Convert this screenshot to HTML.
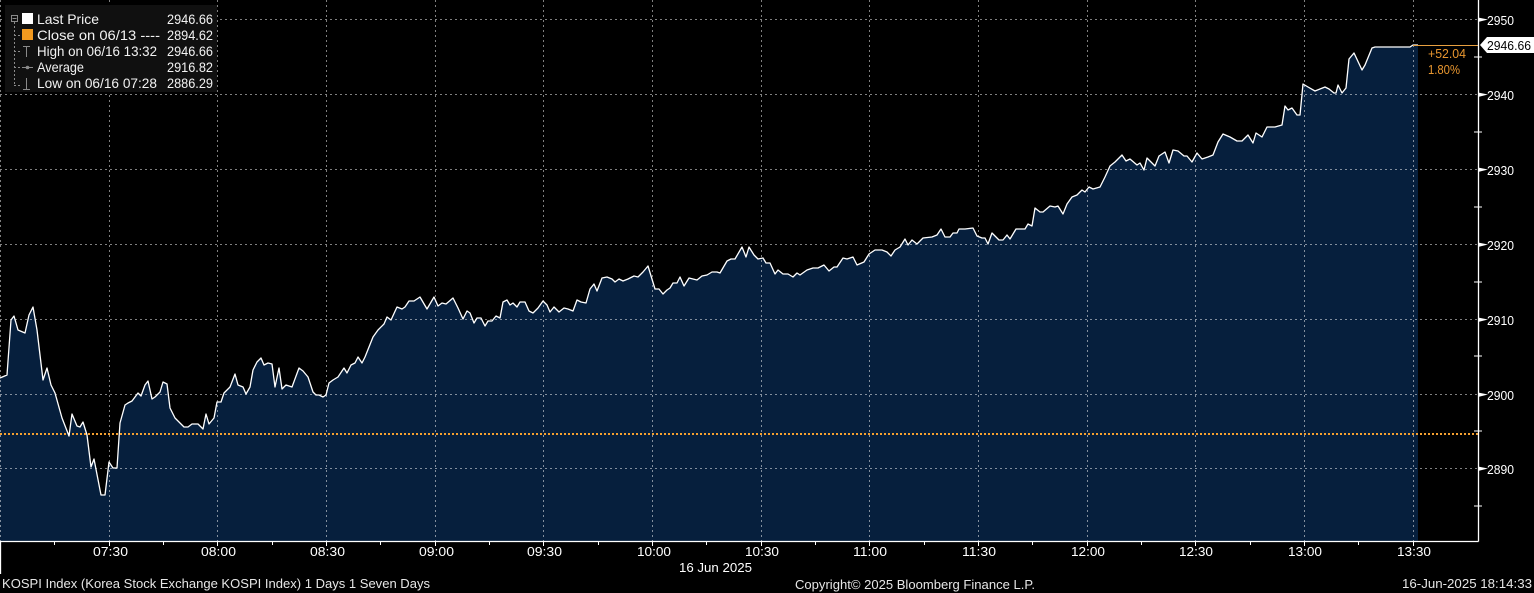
<!DOCTYPE html>
<html>
<head>
<meta charset="utf-8">
<style>
html,body{margin:0;padding:0;background:#000;}
svg{display:block;}
text{font-family:"Liberation Sans",sans-serif;}
</style>
</head>
<body>
<svg width="1534" height="593" viewBox="0 0 1534 593" xmlns="http://www.w3.org/2000/svg">
<rect x="0" y="0" width="1534" height="593" fill="#000"/>

<!-- area fill -->
<path fill="#061f3d" d="M0,541 L0,378 7,375 11,320 14,316 18,330 25,333 29,315 33,307 37,330 43,380 47,368 51,385 55,393 62,418 69,436 72,414 77,426 80,427 83,422 87,435 91,467 94,459 101,495 105,495 109,462 113,468 117,468 120,423 125,405 128,403 132,401 138,393 141,396 145,385 148,381 152,399 155,397 160,392 163,382 167,384 170,408 175,418 180,423 184,427 188,427 192,424 198,424 203,429 206,414 209,424 214,418 217,402 221,402 224,393 230,387 235,374 238,385 243,387 246,394 250,387 253,370 257,362 261,358 264,365 268,363 272,364 275,387 279,368 282,389 286,385 292,387 299,368 303,371 308,377 313,392 316,395 319,395 323,397 326,395 329,383 333,380 338,377 344,368 347,373 351,365 355,363 358,357 362,363 365,357 373,337 378,330 384,324 387,317 391,320 397,307 402,309 405,307 409,301 414,301 420,297 427,309 434,297 438,306 442,303 446,304 453,298 458,308 463,319 467,311 470,313 474,323 477,318 481,318 485,326 488,321 492,321 496,316 500,318 503,302 507,300 510,305 513,303 517,307 520,302 525,302 529,311 533,313 538,308 543,301 547,305 550,312 554,307 559,312 564,308 568,309 573,311 577,300 581,302 586,303 590,289 594,284 597,291 602,278 607,277 612,279 615,282 619,279 623,281 628,279 634,276 638,277 643,272 648,266 655,289 659,289 663,294 667,290 670,288 673,283 677,283 680,277 684,286 689,278 693,279 697,280 702,276 707,275 712,272 717,272 720,273 727,261 731,259 735,259 742,247 746,257 749,247 754,255 758,259 763,258 766,263 770,263 775,274 778,270 783,274 788,274 793,277 797,273 800,275 807,270 813,268 818,268 824,265 829,271 834,267 837,267 843,258 847,259 853,257 857,265 864,262 869,254 875,250 882,250 887,252 891,256 895,250 900,247 905,239 908,245 912,240 917,244 923,238 932,237 937,235 941,229 945,237 950,237 953,233 957,233 959,229 965,229 973,228 977,236 982,238 985,238 988,244 992,233 996,237 999,240 1003,240 1007,235 1010,239 1016,229 1020,229 1025,229 1028,224 1032,226 1035,208 1040,212 1043,212 1050,206 1055,207 1058,206 1063,214 1067,204 1072,197 1077,195 1082,190 1085,192 1089,187 1093,189 1100,187 1105,177 1110,166 1115,162 1122,155 1126,161 1130,159 1137,165 1140,163 1144,170 1147,158 1155,166 1159,156 1165,152 1169,163 1173,150 1178,151 1184,156 1187,156 1192,162 1197,153 1202,159 1208,157 1213,155 1218,142 1223,134 1230,137 1237,141 1242,141 1248,135 1253,143 1256,133 1262,137 1267,127 1275,127 1282,125 1285,106 1288,110 1292,108 1297,115 1300,115 1303,84 1308,87 1315,91 1320,89 1325,87 1329,89 1334,93 1336,93 1338,85 1342,93 1346,88 1349,59 1354,53 1362,70 1365,65 1372,48 1375,47 1410,47 1413,45 1418,45 L1418,541 Z"/>

<!-- grid -->
<g stroke="#ffffff" stroke-opacity="0.5" stroke-width="1" stroke-dasharray="2,3" fill="none">
<line x1="0" y1="19.5" x2="1478" y2="19.5"/>
<line x1="0" y1="94.5" x2="1478" y2="94.5"/>
<line x1="0" y1="169.5" x2="1478" y2="169.5"/>
<line x1="0" y1="244.5" x2="1478" y2="244.5"/>
<line x1="0" y1="319.5" x2="1478" y2="319.5"/>
<line x1="0" y1="394.5" x2="1478" y2="394.5"/>
<line x1="0" y1="468.5" x2="1478" y2="468.5"/>
<line x1="0.5" y1="0" x2="0.5" y2="541"/>
<line x1="109.5" y1="0" x2="109.5" y2="541"/>
<line x1="217.5" y1="0" x2="217.5" y2="541"/>
<line x1="326.5" y1="0" x2="326.5" y2="541"/>
<line x1="435.5" y1="0" x2="435.5" y2="541"/>
<line x1="543.5" y1="0" x2="543.5" y2="541"/>
<line x1="652.5" y1="0" x2="652.5" y2="541"/>
<line x1="761.5" y1="0" x2="761.5" y2="541"/>
<line x1="869.5" y1="0" x2="869.5" y2="541"/>
<line x1="978.5" y1="0" x2="978.5" y2="541"/>
<line x1="1087.5" y1="0" x2="1087.5" y2="541"/>
<line x1="1195.5" y1="0" x2="1195.5" y2="541"/>
<line x1="1304.5" y1="0" x2="1304.5" y2="541"/>
<line x1="1413.5" y1="0" x2="1413.5" y2="541"/>
</g>

<!-- previous close line -->
<line x1="0" y1="434" x2="1478" y2="434" stroke="#f5a030" stroke-width="2" stroke-dasharray="2,2"/>

<!-- price line -->
<polyline fill="none" stroke="#ffffff" stroke-width="1.3" stroke-linejoin="round" points="0,378 7,375 11,320 14,316 18,330 25,333 29,315 33,307 37,330 43,380 47,368 51,385 55,393 62,418 69,436 72,414 77,426 80,427 83,422 87,435 91,467 94,459 101,495 105,495 109,462 113,468 117,468 120,423 125,405 128,403 132,401 138,393 141,396 145,385 148,381 152,399 155,397 160,392 163,382 167,384 170,408 175,418 180,423 184,427 188,427 192,424 198,424 203,429 206,414 209,424 214,418 217,402 221,402 224,393 230,387 235,374 238,385 243,387 246,394 250,387 253,370 257,362 261,358 264,365 268,363 272,364 275,387 279,368 282,389 286,385 292,387 299,368 303,371 308,377 313,392 316,395 319,395 323,397 326,395 329,383 333,380 338,377 344,368 347,373 351,365 355,363 358,357 362,363 365,357 373,337 378,330 384,324 387,317 391,320 397,307 402,309 405,307 409,301 414,301 420,297 427,309 434,297 438,306 442,303 446,304 453,298 458,308 463,319 467,311 470,313 474,323 477,318 481,318 485,326 488,321 492,321 496,316 500,318 503,302 507,300 510,305 513,303 517,307 520,302 525,302 529,311 533,313 538,308 543,301 547,305 550,312 554,307 559,312 564,308 568,309 573,311 577,300 581,302 586,303 590,289 594,284 597,291 602,278 607,277 612,279 615,282 619,279 623,281 628,279 634,276 638,277 643,272 648,266 655,289 659,289 663,294 667,290 670,288 673,283 677,283 680,277 684,286 689,278 693,279 697,280 702,276 707,275 712,272 717,272 720,273 727,261 731,259 735,259 742,247 746,257 749,247 754,255 758,259 763,258 766,263 770,263 775,274 778,270 783,274 788,274 793,277 797,273 800,275 807,270 813,268 818,268 824,265 829,271 834,267 837,267 843,258 847,259 853,257 857,265 864,262 869,254 875,250 882,250 887,252 891,256 895,250 900,247 905,239 908,245 912,240 917,244 923,238 932,237 937,235 941,229 945,237 950,237 953,233 957,233 959,229 965,229 973,228 977,236 982,238 985,238 988,244 992,233 996,237 999,240 1003,240 1007,235 1010,239 1016,229 1020,229 1025,229 1028,224 1032,226 1035,208 1040,212 1043,212 1050,206 1055,207 1058,206 1063,214 1067,204 1072,197 1077,195 1082,190 1085,192 1089,187 1093,189 1100,187 1105,177 1110,166 1115,162 1122,155 1126,161 1130,159 1137,165 1140,163 1144,170 1147,158 1155,166 1159,156 1165,152 1169,163 1173,150 1178,151 1184,156 1187,156 1192,162 1197,153 1202,159 1208,157 1213,155 1218,142 1223,134 1230,137 1237,141 1242,141 1248,135 1253,143 1256,133 1262,137 1267,127 1275,127 1282,125 1285,106 1288,110 1292,108 1297,115 1300,115 1303,84 1308,87 1315,91 1320,89 1325,87 1329,89 1334,93 1336,93 1338,85 1342,93 1346,88 1349,59 1354,53 1362,70 1365,65 1372,48 1375,47 1410,47 1413,45 1418,45"/>

<!-- last price line to axis -->
<line x1="1413" y1="45.5" x2="1478" y2="45.5" stroke="#e8a040" stroke-width="1"/>

<!-- axes -->
<line x1="1478.5" y1="0" x2="1478.5" y2="541.5" stroke="#fff" stroke-width="1.3"/>
<line x1="0" y1="541.5" x2="1478.5" y2="541.5" stroke="#fff" stroke-width="1.3"/>
<line x1="0.5" y1="541" x2="0.5" y2="574" stroke="#fff" stroke-width="1.3"/>

<!-- x ticks -->
<g stroke="#fff" stroke-width="1">
<line x1="54.5" y1="541" x2="54.5" y2="545"/>
<line x1="109.5" y1="541" x2="109.5" y2="546"/>
<line x1="163.5" y1="541" x2="163.5" y2="545"/>
<line x1="217.5" y1="541" x2="217.5" y2="546"/>
<line x1="272.5" y1="541" x2="272.5" y2="545"/>
<line x1="326.5" y1="541" x2="326.5" y2="546"/>
<line x1="380.5" y1="541" x2="380.5" y2="545"/>
<line x1="435.5" y1="541" x2="435.5" y2="546"/>
<line x1="489.5" y1="541" x2="489.5" y2="545"/>
<line x1="543.5" y1="541" x2="543.5" y2="546"/>
<line x1="598.5" y1="541" x2="598.5" y2="545"/>
<line x1="652.5" y1="541" x2="652.5" y2="546"/>
<line x1="706.5" y1="541" x2="706.5" y2="545"/>
<line x1="761.5" y1="541" x2="761.5" y2="546"/>
<line x1="815.5" y1="541" x2="815.5" y2="545"/>
<line x1="869.5" y1="541" x2="869.5" y2="546"/>
<line x1="924.5" y1="541" x2="924.5" y2="545"/>
<line x1="978.5" y1="541" x2="978.5" y2="546"/>
<line x1="1032.5" y1="541" x2="1032.5" y2="545"/>
<line x1="1087.5" y1="541" x2="1087.5" y2="546"/>
<line x1="1141.5" y1="541" x2="1141.5" y2="545"/>
<line x1="1195.5" y1="541" x2="1195.5" y2="546"/>
<line x1="1250.5" y1="541" x2="1250.5" y2="545"/>
<line x1="1304.5" y1="541" x2="1304.5" y2="546"/>
<line x1="1358.5" y1="541" x2="1358.5" y2="545"/>
<line x1="1413.5" y1="541" x2="1413.5" y2="546"/>
</g>

<!-- y minor ticks -->
<g stroke="#fff" stroke-width="1">
<line x1="1474" y1="57" x2="1482" y2="57"/>
<line x1="1474" y1="132" x2="1482" y2="132"/>
<line x1="1474" y1="207" x2="1482" y2="207"/>
<line x1="1474" y1="282" x2="1482" y2="282"/>
<line x1="1474" y1="356" x2="1482" y2="356"/>
<line x1="1474" y1="431" x2="1482" y2="431"/>
<line x1="1474" y1="506" x2="1482" y2="506"/>
</g>

<!-- y major ticks (arrows) -->
<g fill="#fff">
<polygon points="1478,17.5 1488,19.5 1478,22"/>
<polygon points="1478,92.5 1488,94.5 1478,97"/>
<polygon points="1478,167.5 1488,169.5 1478,172"/>
<polygon points="1478,242.5 1488,244.5 1478,247"/>
<polygon points="1478,317.5 1488,319.5 1478,322"/>
<polygon points="1478,392.5 1488,394.5 1478,397"/>
<polygon points="1478,466.5 1488,468.5 1478,471"/>
</g>

<!-- y labels -->
<g fill="#fff" font-size="12.5">
<text x="1487" y="25" textLength="27" lengthAdjust="spacingAndGlyphs">2950</text>
<text x="1487" y="100" textLength="27" lengthAdjust="spacingAndGlyphs">2940</text>
<text x="1487" y="175" textLength="27" lengthAdjust="spacingAndGlyphs">2930</text>
<text x="1487" y="250" textLength="27" lengthAdjust="spacingAndGlyphs">2920</text>
<text x="1487" y="325" textLength="27" lengthAdjust="spacingAndGlyphs">2910</text>
<text x="1487" y="400" textLength="27" lengthAdjust="spacingAndGlyphs">2900</text>
<text x="1487" y="474" textLength="27" lengthAdjust="spacingAndGlyphs">2890</text>
</g>

<!-- last price tag -->
<polygon points="1480,45 1487,37 1534,37 1534,53 1487,53" fill="#fff"/>
<text x="1487" y="50" fill="#000" font-size="12.5" textLength="44" lengthAdjust="spacingAndGlyphs">2946.66</text>
<text x="1428" y="58" fill="#e8962f" font-size="12.5" textLength="38" lengthAdjust="spacingAndGlyphs">+52.04</text>
<text x="1428" y="74" fill="#e8962f" font-size="12.5" textLength="32" lengthAdjust="spacingAndGlyphs">1.80%</text>

<!-- x labels -->
<g fill="#fff" font-size="13">
<text x="93" y="556" textLength="35" lengthAdjust="spacingAndGlyphs">07:30</text>
<text x="201" y="556" textLength="35" lengthAdjust="spacingAndGlyphs">08:00</text>
<text x="310" y="556" textLength="35" lengthAdjust="spacingAndGlyphs">08:30</text>
<text x="419" y="556" textLength="35" lengthAdjust="spacingAndGlyphs">09:00</text>
<text x="527" y="556" textLength="35" lengthAdjust="spacingAndGlyphs">09:30</text>
<text x="637" y="556" textLength="34" lengthAdjust="spacingAndGlyphs">10:00</text>
<text x="745" y="556" textLength="34" lengthAdjust="spacingAndGlyphs">10:30</text>
<text x="853" y="556" textLength="34" lengthAdjust="spacingAndGlyphs">11:00</text>
<text x="962" y="556" textLength="34" lengthAdjust="spacingAndGlyphs">11:30</text>
<text x="1071" y="556" textLength="34" lengthAdjust="spacingAndGlyphs">12:00</text>
<text x="1179" y="556" textLength="34" lengthAdjust="spacingAndGlyphs">12:30</text>
<text x="1288" y="556" textLength="34" lengthAdjust="spacingAndGlyphs">13:00</text>
<text x="1397" y="556" textLength="34" lengthAdjust="spacingAndGlyphs">13:30</text>
</g>
<text x="679" y="572" fill="#fff" font-size="13" textLength="73" lengthAdjust="spacingAndGlyphs">16 Jun 2025</text>

<!-- footer -->
<g fill="#e6e6e6" font-size="12.5">
<text x="2" y="588" textLength="428" lengthAdjust="spacingAndGlyphs">KOSPI Index (Korea Stock Exchange KOSPI Index) 1 Days 1 Seven Days</text>
<text x="795" y="589" textLength="240" lengthAdjust="spacingAndGlyphs">Copyright© 2025 Bloomberg Finance L.P.</text>
<text x="1402" y="588" textLength="130" lengthAdjust="spacingAndGlyphs">16-Jun-2025 18:14:33</text>
</g>

<!-- legend -->
<rect x="5" y="5" width="212" height="87" fill="#101010"/>
<g stroke="#8a8a8a" stroke-width="1" fill="none">
<rect x="11.5" y="15.5" width="6" height="6"/>
<line x1="12.5" y1="18.5" x2="16.5" y2="18.5"/>
<line x1="14.5" y1="22" x2="14.5" y2="86" stroke-dasharray="2,2"/>
<line x1="14" y1="35.5" x2="20" y2="35.5" stroke-dasharray="2,2"/>
<line x1="14" y1="51.5" x2="20" y2="51.5" stroke-dasharray="2,2"/>
<line x1="14" y1="67.5" x2="20" y2="67.5" stroke-dasharray="2,2"/>
<line x1="14" y1="85.5" x2="20" y2="85.5" stroke-dasharray="2,2"/>
<line x1="23" y1="46.5" x2="30" y2="46.5"/>
<line x1="26.5" y1="46" x2="26.5" y2="57"/>
<line x1="22" y1="67.5" x2="33" y2="67.5"/>
<line x1="26.5" y1="78" x2="26.5" y2="89"/>
<line x1="23" y1="89.5" x2="30" y2="89.5"/>
</g>
<circle cx="27.5" cy="67.5" r="1.8" fill="#8a8a8a"/>
<rect x="22" y="13" width="11" height="11" fill="#fff"/>
<rect x="22" y="29" width="11" height="11" fill="#f39a1f"/>
<g fill="#f2f2f2" font-size="14">
<text x="37" y="24" textLength="62" lengthAdjust="spacingAndGlyphs">Last Price</text>
<text x="167" y="24" textLength="46" lengthAdjust="spacingAndGlyphs">2946.66</text>
<text x="37" y="40" textLength="123" lengthAdjust="spacingAndGlyphs">Close on 06/13 ----</text>
<text x="167" y="40" textLength="46" lengthAdjust="spacingAndGlyphs">2894.62</text>
<text x="37" y="56" textLength="120" lengthAdjust="spacingAndGlyphs">High on 06/16 13:32</text>
<text x="167" y="56" textLength="46" lengthAdjust="spacingAndGlyphs">2946.66</text>
<text x="37" y="72" textLength="47" lengthAdjust="spacingAndGlyphs">Average</text>
<text x="167" y="72" textLength="46" lengthAdjust="spacingAndGlyphs">2916.82</text>
<text x="37" y="88" textLength="120" lengthAdjust="spacingAndGlyphs">Low on 06/16 07:28</text>
<text x="167" y="88" textLength="46" lengthAdjust="spacingAndGlyphs">2886.29</text>
</g>
</svg>
</body>
</html>
